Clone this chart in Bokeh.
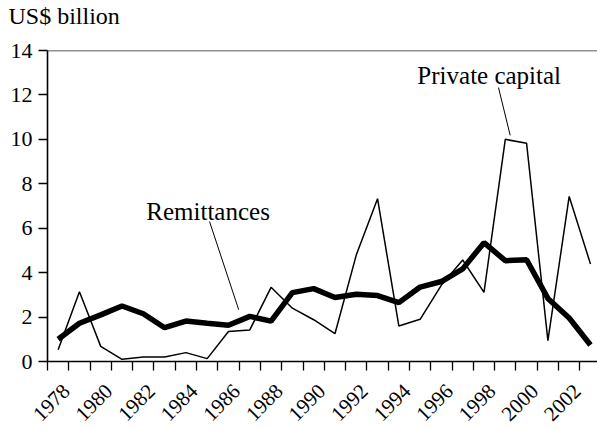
import math
from bokeh.plotting import figure
from bokeh.models import Range1d, FixedTicker, Label, Span, Title
from bokeh.embed import file_html
from bokeh.resources import INLINE

years = list(range(1978, 2004))
remittances = [1.0, 1.72, 2.1, 2.5, 2.15, 1.52, 1.82, 1.72, 1.63, 2.03,
               1.82, 3.1, 3.28, 2.88, 3.03, 2.97, 2.65, 3.35, 3.6, 4.17,
               5.35, 4.54, 4.58, 2.84, 1.96, 0.74]
private_capital = [0.53, 3.14, 0.68, 0.1, 0.2, 0.2, 0.4, 0.13, 1.35, 1.42,
                   3.34, 2.4, 1.88, 1.25, 4.79, 7.33, 1.6, 1.9, 3.44, 4.57,
                   3.11, 10.0, 9.82, 0.94, 7.43, 4.39]
even_years = [y for y in years if y % 2 == 0]
y_ticks = [0, 2, 4, 6, 8, 10, 12, 14]

FONT = "Liberation Serif"
LABEL_SHIFT = 0.38  # rightward nudge of the rotated year labels

p = figure(width=597, height=430, output_backend="svg", toolbar_location=None,
           x_range=Range1d(1977.5, 2003.33), y_range=Range1d(0, 14),
           min_border_left=47, min_border_top=50, min_border_right=0,
           min_border_bottom=62)
p.outline_line_color = None
p.xgrid.visible = False
p.ygrid.visible = False
p.background_fill_color = "white"
p.border_fill_color = "white"

# unit caption (outermost title) with a blank spacer title between it and the frame
p.title.text = "US$ billion"
p.title.align = "left"
p.title.vertical_align = "bottom"
p.title.offset = -39
p.title.text_font = FONT
p.title.text_font_size = "24px"
p.title.text_font_style = "normal"
p.title.text_color = "black"
p.title.standoff = 0
p.add_layout(Title(text=" ", text_font_size="2px", standoff=18), "above")

p.line(years, private_capital, line_color="black", line_width=1.5)
p.line(years, remittances, line_color="black", line_width=5.5)

p.add_layout(Span(location=14, dimension="width", line_color="#222222", line_width=1.6))

label_ticks = [y + LABEL_SHIFT for y in even_years]
xa = p.xaxis[0]
xa.ticker = FixedTicker(ticks=label_ticks, minor_ticks=[y - 0.5 for y in years] + [2003.5])
xa.major_label_overrides = {t: str(y) for t, y in zip(label_ticks, even_years)}
xa.major_tick_out = 0
xa.major_tick_in = 0
xa.minor_tick_out = 9
xa.minor_tick_in = 0
xa.minor_tick_line_color = "black"
xa.minor_tick_line_width = 1.3
xa.axis_line_color = "black"
xa.axis_line_width = 1.6
xa.major_label_orientation = math.pi / 4
xa.major_label_standoff = 17
xa.major_label_text_font = FONT
xa.major_label_text_font_size = "21px"
xa.major_label_text_color = "black"

ya = p.yaxis[0]
ya.ticker = FixedTicker(ticks=y_ticks)
ya.major_tick_out = 9
ya.major_tick_in = 0
ya.minor_tick_out = 0
ya.minor_tick_in = 0
ya.major_tick_line_color = "black"
ya.major_tick_line_width = 1.3
ya.axis_line_color = "black"
ya.axis_line_width = 1.6
ya.major_label_standoff = 6
ya.major_label_text_font = FONT
ya.major_label_text_font_size = "22px"
ya.major_label_text_color = "black"

p.add_layout(Label(x=1994.87, y=12.875, text="Private capital", text_font=FONT,
                   text_font_size="25px", text_color="black", text_baseline="middle"))
p.add_layout(Label(x=1982.14, y=6.77, text="Remittances", text_font=FONT,
                   text_font_size="25px", text_color="black", text_baseline="middle"))
p.line([1998.68, 1999.23], [12.33, 10.18], line_color="black", line_width=1)
p.line([1985.11, 1986.48], [6.3, 2.33], line_color="black", line_width=1)

open("out.html", "w").write(file_html(p, INLINE))
